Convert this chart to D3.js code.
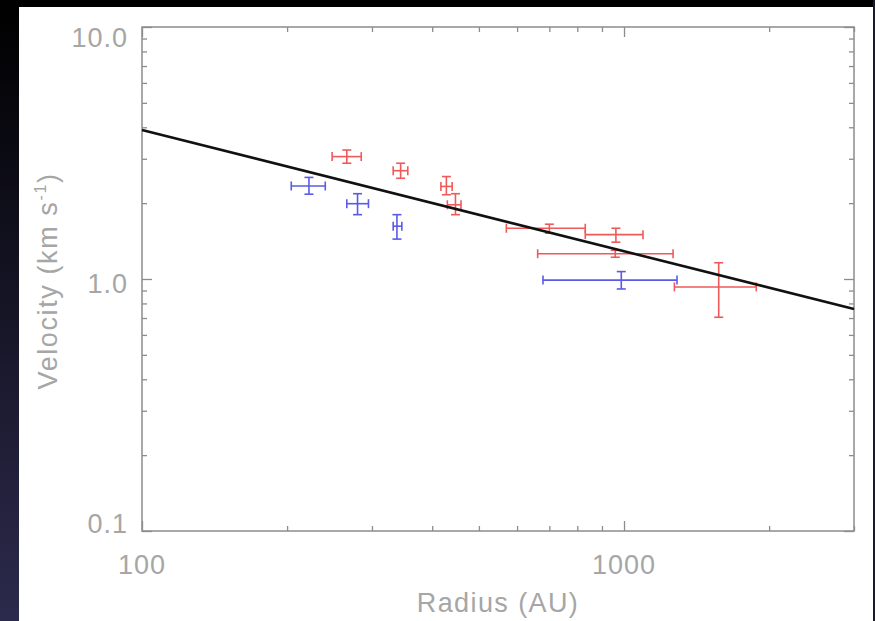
<!DOCTYPE html>
<html>
<head>
<meta charset="utf-8">
<script src="https://cdn.jsdelivr.net/npm/d3@7"></script>
<style>
  html, body { margin: 0; padding: 0; background: #000; }
  svg { display: block; }
  text { font-family: "Liberation Sans", Arial, sans-serif; fill: #a6a6a6; }
</style>
</head>
<body>
<svg id="chart" width="875" height="621"></svg>
<script>
// Red sample: radius (AU) with lower/upper bounds, velocity (km/s) with lower/upper bounds
const redRadius   = [266, 344, 428, 447, 700, 962, 959, 1572];
const redRadiusLo = [248, 332, 417, 430, 570, 831, 662, 1272];
const redRadiusHi = [285, 356, 440, 459, 831, 1095, 1264, 1881];
const redVel      = [3.06, 2.69, 2.33, 1.97, 1.59, 1.50, 1.26, 0.93];
const redVelLo    = [2.88, 2.51, 2.16, 1.80, 1.52, 1.40, 1.22, 0.705];
const redVelHi    = [3.25, 2.88, 2.55, 2.18, 1.65, 1.59, 1.30, 1.16];

// Blue sample
const blueRadius   = [222, 280, 338, 987];
const blueRadiusLo = [204, 266, 332, 679];
const blueRadiusHi = [240, 295, 346, 1288];
const blueVel      = [2.34, 1.99, 1.62, 0.99];
const blueVelLo    = [2.17, 1.80, 1.44, 0.913];
const blueVelHi    = [2.53, 2.18, 1.80, 1.07];

// Power-law fit, end points
const fitRadius = [100, 3000];
const fitVel    = [3.90, 0.76];

// Axis tick labels
const xTickLabels = [100, 1000];
const yTickLabels = [0.1, 1.0, 10.0];

const svg = d3.select("#chart");
const W = 875, H = 621;

// Backdrop: dark frame with a navy fade down the left edge
const defs = svg.append("defs");
const grad = defs.append("linearGradient").attr("id", "edge")
  .attr("x1", 0).attr("y1", 0).attr("x2", 0).attr("y2", 1);
grad.append("stop").attr("offset", "0%").attr("stop-color", "#000000");
grad.append("stop").attr("offset", "100%").attr("stop-color", "#2c2a4c");
svg.append("rect").attr("width", W).attr("height", H).attr("fill", "#000");
svg.append("rect").attr("x", 0).attr("y", 0).attr("width", 19).attr("height", H).attr("fill", "url(#edge)");
svg.append("rect").attr("x", 873).attr("y", 0).attr("width", 2).attr("height", H).attr("fill", "#1a1830");
svg.append("rect").attr("x", 19).attr("y", 7).attr("width", 854).attr("height", H - 7).attr("fill", "#fff");

const L = 142, R = 854, T = 27, B = 531;

const x = d3.scaleLog().domain([100, 3000]).range([L, R]);
const y = d3.scaleLog().domain([0.1, 10]).range([B, T]);

const axisColor = "#8c8c8c";

// Tick values: every integer multiple within each decade
const xTicks = [];
for (let d = 100; d <= 1000; d *= 10) for (let k = 1; k <= 9; k++) { const v = k * d; if (v <= 3000) xTicks.push(v); }
const yTicks = [];
for (let d = 0.1; d <= 1.01; d *= 10) for (let k = 1; k <= 9; k++) yTicks.push(+(k * d).toFixed(2));
yTicks.push(10);

const isMajor = v => Math.abs(Math.log10(v) - Math.round(Math.log10(v))) < 1e-6;
const major = 10, minor = 5;

function styleAxis(g) {
  g.select(".domain").remove();
  g.selectAll(".tick line").attr("stroke", axisColor).attr("stroke-width", 1.3);
  g.selectAll(".tick text").remove();
}

// Ticks on all four sides
const bottomAx = svg.append("g").attr("transform", `translate(0,${B})`)
  .call(d3.axisTop(x).tickValues(xTicks).tickSize(0)).call(styleAxis);
bottomAx.selectAll(".tick line").attr("y2", d => -(isMajor(d) ? major : minor));
const topAx = svg.append("g").attr("transform", `translate(0,${T})`)
  .call(d3.axisBottom(x).tickValues(xTicks).tickSize(0)).call(styleAxis);
topAx.selectAll(".tick line").attr("y2", d => (isMajor(d) ? major : minor));
const leftAx = svg.append("g").attr("transform", `translate(${L},0)`)
  .call(d3.axisRight(y).tickValues(yTicks).tickSize(0)).call(styleAxis);
leftAx.selectAll(".tick line").attr("x2", d => (isMajor(d) ? major : minor));
const rightAx = svg.append("g").attr("transform", `translate(${R},0)`)
  .call(d3.axisLeft(y).tickValues(yTicks).tickSize(0)).call(styleAxis);
rightAx.selectAll(".tick line").attr("x2", d => -(isMajor(d) ? major : minor));

// Frame
svg.append("rect").attr("x", L).attr("y", T).attr("width", R - L).attr("height", B - T)
  .attr("fill", "none").attr("stroke", axisColor).attr("stroke-width", 1.5);

// Tick labels
svg.selectAll(".xlab").data(xTickLabels).join("text")
  .attr("x", d => x(d)).attr("y", 574)
  .attr("text-anchor", "middle").attr("font-size", 27).attr("letter-spacing", 1)
  .text(d => d);
svg.selectAll(".ylab").data(yTickLabels).join("text")
  .attr("x", 128).attr("y", d => Math.min(B + 2, Math.max(T + 20, y(d) + 14)))
  .attr("text-anchor", "end").attr("font-size", 27).attr("letter-spacing", 1)
  .text(d => d.toFixed(1));

// Axis titles
svg.append("text").attr("x", (L + R) / 2).attr("y", 612)
  .attr("text-anchor", "middle").attr("font-size", 27).attr("letter-spacing", 1.4)
  .text("Radius (AU)");
const yt = svg.append("text")
  .attr("transform", `translate(57,${(T + B) / 2 + 2}) rotate(-90)`)
  .attr("text-anchor", "middle").attr("font-size", 27).attr("letter-spacing", 1.6);
yt.append("tspan").text("Velocity (km s");
yt.append("tspan").attr("font-size", 16).attr("dy", -11).text("-1");
yt.append("tspan").attr("dy", 11).text(")");

// Error bars
function errorBars(cls, color, r, rlo, rhi, v, vlo, vhi) {
  const pts = r.map((d, i) => ({ r: d, rlo: rlo[i], rhi: rhi[i], v: v[i], vlo: vlo[i], vhi: vhi[i] }));
  const g = svg.append("g").attr("class", cls).attr("stroke", color).attr("stroke-width", 1.6).attr("fill", "none");
  const cap = 4.5;
  const e = g.selectAll("g").data(pts).join("g");
  e.append("line").attr("x1", d => x(d.rlo)).attr("x2", d => x(d.rhi)).attr("y1", d => y(d.v)).attr("y2", d => y(d.v));
  e.append("line").attr("x1", d => x(d.r)).attr("x2", d => x(d.r)).attr("y1", d => y(d.vlo)).attr("y2", d => y(d.vhi));
  e.append("line").attr("x1", d => x(d.rlo)).attr("x2", d => x(d.rlo)).attr("y1", d => y(d.v) - cap).attr("y2", d => y(d.v) + cap);
  e.append("line").attr("x1", d => x(d.rhi)).attr("x2", d => x(d.rhi)).attr("y1", d => y(d.v) - cap).attr("y2", d => y(d.v) + cap);
  e.append("line").attr("x1", d => x(d.r) - cap).attr("x2", d => x(d.r) + cap).attr("y1", d => y(d.vlo)).attr("y2", d => y(d.vlo));
  e.append("line").attr("x1", d => x(d.r) - cap).attr("x2", d => x(d.r) + cap).attr("y1", d => y(d.vhi)).attr("y2", d => y(d.vhi));
}
errorBars("red", "#ee5a5a", redRadius, redRadiusLo, redRadiusHi, redVel, redVelLo, redVelHi);
errorBars("blue", "#5a5ae6", blueRadius, blueRadiusLo, blueRadiusHi, blueVel, blueVelLo, blueVelHi);

// Fit line
const fitLine = d3.line().x(d => x(d[0])).y(d => y(d[1]));
svg.append("path").datum(fitRadius.map((r, i) => [r, fitVel[i]]))
  .attr("d", fitLine).attr("fill", "none").attr("stroke", "#111").attr("stroke-width", 2.6);
</script>
</body>
</html>
